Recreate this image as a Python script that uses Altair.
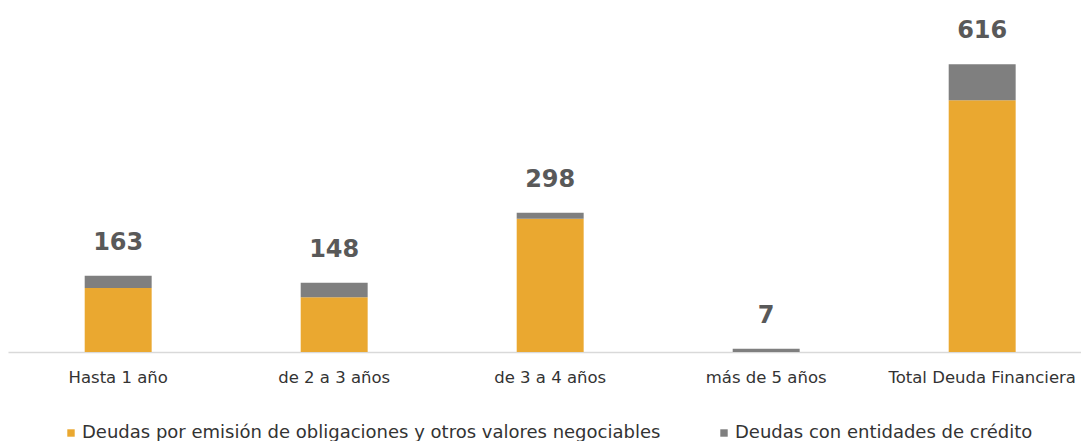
import altair as alt
import pandas as pd

categories = ["Hasta 1 año", "de 2 a 3 años", "de 3 a 4 años", "más de 5 años", "Total Deuda Financiera"]
obligaciones = [137, 117, 285, 0, 539]
entidades = [26, 31, 13, 7, 77]
totals = [163, 148, 298, 7, 616]
series = ["Deudas por emisión de obligaciones y otros valores negociables", "Deudas con entidades de crédito"]
colors = ["#EAA830", "#7F7F7F"]

rows = []
for i, c in enumerate(categories):
    rows.append({"cat": c, "serie": series[0], "val": obligaciones[i], "ord": 0})
    rows.append({"cat": c, "serie": series[1], "val": entidades[i], "ord": 1})
df = pd.DataFrame(rows)
tot = pd.DataFrame({"cat": categories, "total": totals})

x = alt.X("cat:N", sort=categories, title=None,
          scale=alt.Scale(paddingInner=0.69, paddingOuter=0.3288, align=0.54),
          axis=alt.Axis(labelAngle=0, labelFont="DejaVu Sans", labelFontSize=16.5, labelColor="#333333",
                        labelPadding=17, ticks=False, domainColor="#D9D9D9", domainWidth=1.5,
                        labelLimit=300))
yscale = alt.Scale(domain=[0, 700], nice=False)

bars = alt.Chart(df).mark_bar().encode(
    x=x,
    y=alt.Y("val:Q", stack="zero", scale=yscale, axis=None, title=None),
    color=alt.Color("serie:N", sort=series, scale=alt.Scale(domain=series, range=colors),
                    legend=alt.Legend(title=None, orient="none", legendX=54, legendY=399,
                                      direction="horizontal", symbolType="square", symbolSize=55,
                                      symbolStrokeWidth=0, labelFont="DejaVu Sans", labelFontSize=18,
                                      labelColor="#333333", labelLimit=800, columnPadding=54,
                                      symbolOffset=0, labelOffset=2)),
    order=alt.Order("ord:Q"),
)

labels = alt.Chart(tot).mark_text(dy=-21, baseline="bottom", font="DejaVu Sans", fontWeight="bold",
                                  fontSize=24, color="#595959").encode(
    x=alt.X("cat:N", sort=categories),
    y=alt.Y("total:Q", scale=yscale),
    text="total:Q",
)

chart = (bars + labels).properties(
    width=1073, height=327,
    padding={"left": 0, "top": 11, "right": 0, "bottom": 0},
).configure_view(stroke=None)

chart.save("out.html", embed_options={"renderer": "svg", "actions": False})
